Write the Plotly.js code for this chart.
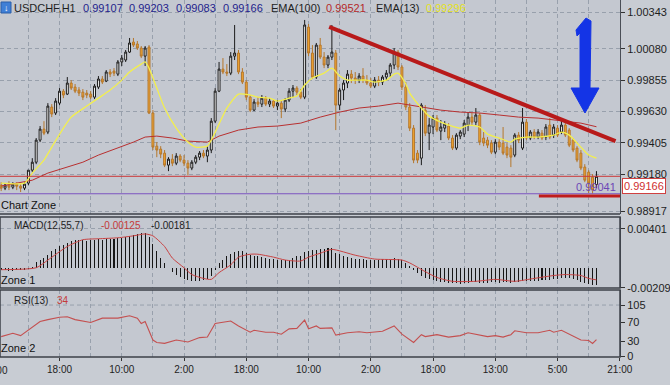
<!DOCTYPE html>
<html><head><meta charset="utf-8">
<script src="https://cdn.plot.ly/plotly-3.0.1.min.js"></script>
<style>html,body{margin:0;padding:0;background:#c7cbd2;}#chart{width:670px;height:385px;}</style>
</head><body><div id="chart"></div>
<script>
// ---- price bars (USDCHF, H1) ----
const openP = [0.99103,0.99081,0.99103,0.99088,0.99110,0.99095,0.99081,0.99117,0.99210,0.99267,
0.99425,0.99504,0.99483,0.99662,0.99619,0.99690,0.99776,0.99755,0.99834,0.99805,
0.99784,0.99769,0.99762,0.99755,0.99733,0.99805,0.99863,0.99848,0.99913,0.99920,
0.99898,0.99985,0.99999,1.00056,1.00128,1.00114,1.00085,1.00027,1.00092,0.99619,
0.99382,0.99361,0.99332,0.99246,0.99289,0.99260,0.99311,0.99282,0.99260,0.99225,
0.99267,0.99303,0.99332,0.99311,0.99354,0.99561,0.99776,0.99934,0.99913,0.99905,
1.00027,1.00049,0.99913,0.99841,0.99733,0.99640,0.99698,0.99683,0.99726,0.99683,
0.99705,0.99669,0.99690,0.99648,0.99712,0.99776,0.99798,0.99769,0.99733,1.00235,
1.00049,0.99877,1.00106,1.00020,0.99963,1.00020,1.00049,0.99676,0.99784,0.99834,
0.99898,0.99870,0.99855,0.99884,0.99855,0.99834,0.99812,0.99855,0.99841,0.99877,
0.99905,0.99963,1.00056,0.99949,0.99805,0.99662,0.99511,0.99332,0.99296,0.99640,
0.99475,0.99519,0.99583,0.99490,0.99511,0.99526,0.99440,0.99368,0.99454,0.99468,
0.99533,0.99590,0.99554,0.99605,0.99440,0.99425,0.99404,0.99339,0.99411,0.99404,
0.99375,0.99368,0.99318,0.99461,0.99368,0.99554,0.99440,0.99483,0.99447,0.99475,
0.99447,0.99533,0.99461,0.99511,0.99483,0.99533,0.99497,0.99425,0.99368,0.99332,
0.99232,0.99196,0.99160,0.99107];
const highP = [0.99124,0.99117,0.99131,0.99124,0.99124,0.99110,0.99124,0.99210,0.99296,0.99440,
0.99526,0.99561,0.99690,0.99683,0.99726,0.99798,0.99791,0.99877,0.99855,0.99827,
0.99805,0.99791,0.99784,0.99776,0.99827,0.99884,0.99884,0.99927,0.99934,0.99941,
0.99999,1.00035,1.00071,1.00157,1.00157,1.00135,1.00099,1.00099,1.00106,0.99640,
0.99411,0.99382,0.99354,0.99303,0.99325,0.99332,0.99325,0.99318,0.99282,0.99282,
0.99318,0.99347,0.99354,0.99382,0.99583,0.99798,0.99985,1.00013,0.99970,1.00056,
1.00250,1.00071,0.99941,0.99855,0.99748,0.99719,0.99733,0.99748,0.99741,0.99726,
0.99719,0.99712,0.99705,0.99726,0.99798,0.99820,0.99812,0.99791,1.00286,1.00257,
1.00106,1.00121,1.00157,1.00056,1.00035,1.00250,1.00071,0.99798,0.99855,0.99927,
0.99927,0.99913,0.99905,0.99941,0.99891,0.99870,0.99877,0.99884,0.99891,0.99927,
0.99977,1.00085,1.00071,0.99963,0.99841,0.99690,0.99533,0.99354,0.99690,0.99676,
0.99583,0.99605,0.99605,0.99569,0.99561,0.99547,0.99461,0.99475,0.99497,0.99569,
0.99626,0.99619,0.99655,0.99619,0.99483,0.99447,0.99425,0.99432,0.99432,0.99519,
0.99404,0.99389,0.99475,0.99483,0.99655,0.99576,0.99497,0.99504,0.99504,0.99497,
0.99540,0.99583,0.99540,0.99533,0.99569,0.99554,0.99511,0.99440,0.99382,0.99354,
0.99253,0.99210,0.99182,0.99203];
const lowP = [0.99060,0.99067,0.99067,0.99074,0.99067,0.99053,0.99067,0.99103,0.99196,0.99253,
0.99411,0.99461,0.99468,0.99590,0.99605,0.99676,0.99726,0.99748,0.99784,0.99762,
0.99741,0.99712,0.99726,0.99719,0.99719,0.99791,0.99827,0.99841,0.99877,0.99884,
0.99884,0.99956,0.99985,1.00049,1.00092,1.00071,1.00013,0.99956,0.99612,0.99354,
0.99303,0.99296,0.99232,0.99203,0.99239,0.99246,0.99267,0.99239,0.99174,0.99210,
0.99253,0.99282,0.99296,0.99267,0.99332,0.99547,0.99769,0.99898,0.99884,0.99891,
0.99999,0.99898,0.99827,0.99712,0.99626,0.99633,0.99662,0.99662,0.99669,0.99662,
0.99655,0.99640,0.99583,0.99626,0.99698,0.99733,0.99748,0.99719,0.99719,1.00027,
0.99863,0.99863,1.00006,0.99941,0.99941,0.99999,0.99497,0.99640,0.99712,0.99798,
0.99834,0.99827,0.99834,0.99834,0.99820,0.99798,0.99798,0.99812,0.99820,0.99855,
0.99877,0.99934,0.99927,0.99784,0.99640,0.99490,0.99260,0.99260,0.99246,0.99454,
0.99354,0.99468,0.99483,0.99425,0.99483,0.99425,0.99354,0.99354,0.99432,0.99447,
0.99490,0.99533,0.99533,0.99389,0.99382,0.99368,0.99325,0.99325,0.99354,0.99318,
0.99296,0.99232,0.99303,0.99404,0.99354,0.99425,0.99425,0.99432,0.99432,0.99425,
0.99425,0.99432,0.99440,0.99447,0.99468,0.99447,0.99375,0.99339,0.99267,0.99210,
0.99124,0.99045,0.99041,0.99083];
const closeP = [0.99081,0.99103,0.99088,0.99110,0.99095,0.99081,0.99110,0.99210,0.99267,0.99425,
0.99504,0.99475,0.99669,0.99612,0.99705,0.99776,0.99748,0.99834,0.99798,0.99776,
0.99762,0.99733,0.99748,0.99733,0.99812,0.99863,0.99841,0.99913,0.99898,0.99905,
0.99985,1.00013,1.00056,1.00121,1.00106,1.00085,1.00027,1.00085,0.99619,0.99375,
0.99354,0.99325,0.99246,0.99289,0.99260,0.99311,0.99282,0.99260,0.99225,0.99267,
0.99303,0.99332,0.99311,0.99354,0.99561,0.99776,0.99934,0.99913,0.99905,1.00027,
1.00049,0.99913,0.99841,0.99733,0.99640,0.99698,0.99683,0.99726,0.99683,0.99705,
0.99669,0.99690,0.99648,0.99712,0.99776,0.99798,0.99769,0.99733,1.00250,1.00049,
0.99877,1.00106,1.00020,0.99963,1.00020,1.00056,0.99676,0.99784,0.99834,0.99898,
0.99870,0.99855,0.99884,0.99855,0.99834,0.99812,0.99855,0.99841,0.99877,0.99905,
0.99963,1.00056,0.99949,0.99805,0.99662,0.99511,0.99282,0.99282,0.99676,0.99475,
0.99533,0.99583,0.99497,0.99519,0.99540,0.99440,0.99368,0.99461,0.99483,0.99547,
0.99590,0.99554,0.99605,0.99411,0.99404,0.99389,0.99339,0.99411,0.99375,0.99332,
0.99318,0.99303,0.99461,0.99425,0.99554,0.99440,0.99483,0.99447,0.99483,0.99440,
0.99519,0.99447,0.99519,0.99461,0.99533,0.99461,0.99389,0.99354,0.99282,0.99225,
0.99138,0.99117,0.99067,0.99166];

// ---- moving averages (read at sample bars) ----
const ema13Bar = [0,6,8,11,13,16,18,22,25,28,31,33,36,37,38,40,42,45,48,50,53,54,56,58,61,64,66,69,71,74,76,78,80,83,85,87,89,91,94,96,99,101,102,104,105,108,110,113,115,118,120,123,125,128,131,132,135,138,142,144,146,149,151,153];
const ema13Val = [0.99117,0.99117,0.99189,0.99282,0.99375,0.99511,0.99590,0.99669,0.99726,0.99784,0.99855,0.99913,0.99970,0.99985,0.99941,0.99798,0.99655,0.99511,0.99411,0.99375,0.99382,0.99425,0.99540,0.99655,0.99755,0.99748,0.99733,0.99726,0.99705,0.99726,0.99741,0.99820,0.99870,0.99905,0.99941,0.99884,0.99855,0.99855,0.99855,0.99841,0.99855,0.99898,0.99905,0.99827,0.99762,0.99655,0.99597,0.99554,0.99533,0.99511,0.99533,0.99519,0.99468,0.99440,0.99411,0.99432,0.99447,0.99447,0.99461,0.99483,0.99461,0.99375,0.99318,0.99296];
const ema100Bar = [0,8,12,17,21,25,30,34,37,40,44,48,53,56,61,66,71,77,82,87,92,97,102,107,113,118,123,128,133,138,143,149,153];
const ema100Val = [0.99096,0.99138,0.99189,0.99232,0.99267,0.99318,0.99368,0.99411,0.99447,0.99454,0.99440,0.99418,0.99411,0.99454,0.99497,0.99519,0.99526,0.99547,0.99590,0.99626,0.99655,0.99669,0.99690,0.99669,0.99640,0.99626,0.99619,0.99605,0.99590,0.99583,0.99569,0.99547,0.99521];

// ---- MACD(12,55,7) ----
const macdHist = [-0.0002,-0.0002,-0.0003,-0.0003,-0.0002,-0.0002,-0.0002,-0.0001,
0.0001,0.0006,0.0008,0.0010,0.0013,0.0017,0.0019,0.0022,
0.0024,0.0026,0.0028,0.0029,0.0029,0.0029,0.0028,0.0029,
0.0029,0.0030,0.0029,0.0030,0.0030,0.0030,0.0031,0.0031,
0.0032,0.0033,0.0034,0.0035,0.0036,0.0036,0.0032,0.0025,
0.0017,0.0010,0.0005,0.0000,-0.0004,-0.0007,-0.0010,-0.0012,
-0.0013,-0.0014,-0.0014,-0.0014,-0.0013,-0.0012,-0.0009,-0.0002,
0.0005,0.0008,0.0012,0.0014,0.0016,0.0017,0.0017,0.0015,
0.0013,0.0012,0.0012,0.0011,0.0010,0.0009,0.0009,0.0008,
0.0008,0.0008,0.0008,0.0010,0.0012,0.0012,0.0016,0.0017,
0.0018,0.0018,0.0019,0.0019,0.0020,0.0020,0.0015,0.0014,
0.0012,0.0011,0.0010,0.0009,0.0009,0.0009,0.0008,0.0008,
0.0008,0.0008,0.0009,0.0009,0.0009,0.0010,0.0009,0.0008,
0.0005,0.0002,-0.0002,-0.0005,-0.0008,-0.0011,-0.0012,-0.0013,
-0.0014,-0.0015,-0.0015,-0.0016,-0.0016,-0.0016,-0.0017,-0.0016,
-0.0016,-0.0015,-0.0015,-0.0016,-0.0016,-0.0016,-0.0015,-0.0015,
-0.0016,-0.0015,-0.0015,-0.0016,-0.0015,-0.0015,-0.0014,-0.0014,
-0.0014,-0.0014,-0.0014,-0.0013,-0.0013,-0.0013,-0.0012,-0.0012,
-0.0011,-0.0011,-0.0011,-0.0012,-0.0013,-0.0015,-0.0016,-0.0017,
-0.0018,-0.00181];
const sigBar = [0,9,12,17,21,25,30,34,37,39,42,44,47,49,52,54,56,59,61,64,66,70,73,77,79,82,85,91,96,103,105,109,112,116,122,127,132,137,142,145,149,151,153];
const sigVal = [-0.0002,0.0000,0.0008,0.0022,0.0029,0.0030,0.0031,0.0033,0.0035,0.0033,0.0022,0.0010,0.0000,-0.0007,-0.0011,-0.0012,-0.0005,0.0003,0.0011,0.0014,0.0014,0.0011,0.0008,0.0007,0.0011,0.0015,0.0019,0.0013,0.0009,0.0008,0.0005,-0.0004,-0.0010,-0.0014,-0.0014,-0.0012,-0.0014,-0.0011,-0.0008,-0.0007,-0.0008,-0.0011,-0.00125];

// ---- RSI(13) ----
const rsiBar = [0,3,5,7,10,12,15,17,19,23,26,30,33,35,36,37,39,40,42,45,48,51,53,55,57,59,61,64,65,68,70,72,74,76,78,79,81,82,85,86,89,92,94,96,98,101,103,106,108,109,112,115,118,120,122,125,127,129,131,132,135,138,141,142,144,147,149,151,152,153];
const rsiVal = [40,47,42,53,71,75,80,81,75,69,78,78,83,78,67,71,33,28,26,33,29,38,39,67,69,72,62,49,53,49,49,45,56,57,74,56,62,57,58,43,48,50,48,50,51,62,45,28,44,40,44,39,42,48,45,40,42,39,44,52,48,48,53,49,53,40,33,32,26,34];

// ---- axis labels ----
const timeTickBars = [15,31,47,63,79,95,111,127,143,159];
const timeTickText = ['18:00','10:00','2:00','18:00','10:00','2:00','18:00','13:00','5:00','21:00'];
const gridBars = [7,23,39,55,71,87,103,119,135,151];
const priceTicks = [1.00343,1.00080,0.99855,0.99630,0.99405,0.99180,0.98917];
const macdTicks = [0.00401,-0.00209];
const rsiTicks = [105,70,30,0];
const bidPrice = 0.99166, markPrice = 0.99041;

const bars = openP.map((_, i) => i);
const FONT = 'Liberation Sans, Arial, sans-serif';
const GRID = '#98a0ac';
const DASH = '4px,3px';
const PH = 357, PW = 620;
const px = v => v / PW, py = v => (PH - v) / PH;

const traces = [
  {type:'candlestick', x:bars, open:openP, high:highP, low:lowP, close:closeP, xaxis:'x', yaxis:'y',
   increasing:{line:{color:'#1b1b1b', width:1}, fillcolor:'#ffffff'},
   decreasing:{line:{color:'#b5772c', width:1}, fillcolor:'#f0a531'},
   whiskerwidth:0, hoverinfo:'skip', showlegend:false},
  {type:'scatter', mode:'lines', x:ema100Bar, y:ema100Val, xaxis:'x', yaxis:'y', line:{color:'#b83030', width:1}, hoverinfo:'skip', showlegend:false},
  {type:'scatter', mode:'lines', x:ema13Bar, y:ema13Val, xaxis:'x', yaxis:'y', line:{color:'#f3ef4c', width:1.3, shape:'spline', smoothing:0.6}, hoverinfo:'skip', showlegend:false},
  {type:'bar', x:bars, y:macdHist, xaxis:'x', yaxis:'y2', width:0.26, marker:{color:'#161616', line:{width:0}}, hoverinfo:'skip', showlegend:false},
  {type:'scatter', mode:'lines', x:sigBar, y:sigVal, xaxis:'x', yaxis:'y2', line:{color:'#c94343', width:1, shape:'spline', smoothing:0.6}, hoverinfo:'skip', showlegend:false},
  {type:'scatter', mode:'lines', x:rsiBar, y:rsiVal, xaxis:'x', yaxis:'y3', line:{color:'#c45050', width:1.1}, hoverinfo:'skip', showlegend:false}
];

const yCommon = {side:'right', ticks:'outside', ticklen:4, tickcolor:'#333', showline:true, linecolor:'#4a4e56', linewidth:1,
  zeroline:false, tickfont:{family:FONT, size:11, color:'#1e1e1e'}, fixedrange:true, gridcolor:GRID, griddash:DASH, gridwidth:1};

const layout = {
  width:670, height:385, margin:{l:0, r:50, t:0, b:28},
  paper_bgcolor:'#c8ccd3', plot_bgcolor:'#c4c8d0',
  font:{family:FONT, size:11, color:'#1e1e1e'},
  showlegend:false, bargap:0,
  xaxis:{anchor:'y3', range:[-0.3, 159.05], rangeslider:{visible:false}, tickmode:'array', tickvals:timeTickBars, ticktext:timeTickText,
    ticks:'outside', ticklen:3, tickcolor:'#333', tickfont:{family:FONT, size:10, color:'#1e1e1e'},
    showgrid:true, gridcolor:GRID, griddash:DASH, zeroline:false, showline:false, fixedrange:true,
    minor:{tickmode:'array', tickvals:gridBars, showgrid:true, gridcolor:GRID, griddash:DASH, ticks:''}},
  yaxis:Object.assign({}, yCommon, {domain:[0.4006, 1], range:[0.98896, 1.00429], tickmode:'array', tickvals:priceTicks,
    ticktext:priceTicks.map(v => v.toFixed(5)), showgrid:true}),
  yaxis2:Object.assign({}, yCommon, {domain:[0.1933, 0.3922], range:[-0.00209, 0.00525], tickmode:'array', tickvals:macdTicks,
    ticktext:macdTicks.map(v => v.toFixed(5)), showgrid:true}),
  yaxis3:Object.assign({}, yCommon, {domain:[0, 0.1877], range:[-2, 136], tickmode:'array', tickvals:rsiTicks,
    ticktext:rsiTicks.map(String), showgrid:false}),
  shapes:[
    {type:'line', xref:'paper', yref:'y', x0:0, x1:1, y0:bidPrice, y1:bidPrice, line:{color:'#cc3838', width:1}},
    {type:'line', xref:'paper', yref:'y', x0:0, x1:1, y0:markPrice, y1:markPrice, line:{color:'#7d55c0', width:1.2}},
    {type:'line', xref:'x', yref:'y', x0:84.3, y0:1.00236, x1:157.9, y1:0.99418, line:{color:'#b81a1a', width:4}},
    {type:'line', xref:'x', yref:'y', x0:138.2, y0:0.99024, x1:159.05, y1:0.99024, line:{color:'#c01c1c', width:3}},
    {type:'path', xref:'paper', yref:'paper',
     path:`M ${px(576)} ${py(30)} L ${px(586)} ${py(18)} L ${px(591)} ${py(21)} L ${px(590)} ${py(88)} L ${px(599)} ${py(88)} L ${px(585)} ${py(113)} L ${px(571)} ${py(88)} L ${px(580)} ${py(88)} L ${px(580)} ${py(33)} L ${px(577)} ${py(36)} Z`,
     fillcolor:'#1434e6', line:{color:'#1434e6', width:1}},
    {type:'line', xref:'paper', yref:'y3', x0:0, x1:1, y0:105, y1:105, line:{color:GRID, width:1, dash:DASH}},
    {type:'line', xref:'paper', yref:'y domain', x0:0, x1:1, y0:0, y1:0, line:{color:'#3c4048', width:1.5}},
    {type:'rect', xref:'paper', yref:'y2 domain', x0:0, x1:1, y0:0, y1:1, line:{color:'#3c4048', width:1.5}},
    {type:'rect', xref:'paper', yref:'y3 domain', x0:0, x1:1, y0:0, y1:1, line:{color:'#3c4048', width:1.5}},
    {type:'rect', xref:'paper', yref:'paper', x0:px(1), x1:px(11), y0:py(13), y1:py(2), fillcolor:'#3f7fd6', line:{color:'#2a5ea8', width:1}}
  ],
  annotations:[]
};

function note(text, x, y, color, size, xanchor, extra) {
  layout.annotations.push(Object.assign({text:text, xref:'paper', yref:'paper', x:x, y:y, xanchor:xanchor || 'left', yanchor:'middle',
    showarrow:false, font:{family:FONT, size:size || 11, color:color || '#1e1e1e'}}, extra || {}));
}
// header
note('↓', px(6), py(7.5), '#ffffff', 9, 'center');
note('USDCHF,H1', px(12), py(8), '#1e1e1e');
note('0.99107', px(81), py(8), '#23238c');
note('0.99203', px(127), py(8), '#23238c');
note('0.99083', px(174), py(8), '#23238c');
note('0.99166', px(221), py(8), '#23238c');
note('EMA(100)', px(269), py(8), '#1e1e1e');
note('0.99521', px(324), py(8), '#b42a2a');
note('EMA(13)', px(374), py(8), '#1e1e1e');
note('0.99296', px(424), py(8), '#e4e21c');
// zone labels
note('Chart Zone', px(-1), py(205), '#111');
note('MACD(12,55,7)', px(12), py(225), '#1e1e1e', 10);
note('-0.00125', px(99), py(225), '#c43a3a', 10);
note('-0.00181', px(149), py(225), '#1e1e1e', 10);
note('Zone 1', px(-1), py(280), '#111');
note('RSI(13)', px(12), py(300), '#1e1e1e', 10);
note('34', px(55), py(300), '#c43a3a', 10);
note('Zone 2', px(-1), py(348), '#111');
// first time label, cut by the left edge as in the reference
note('2:00', px(-2), py(370), '#1e1e1e', 10, 'center');
// price labels
note('0.99041', px(618), py(187), '#6c46b6', 11, 'right');
note('0.99166', 1, py(186.5), '#cf3030', 11, 'left', {xshift:2, bgcolor:'#ffffff', bordercolor:'#d04040', borderwidth:1, borderpad:1});

Plotly.newPlot('chart', traces, layout, {staticPlot:true, displayModeBar:false});
</script>
</body></html>
